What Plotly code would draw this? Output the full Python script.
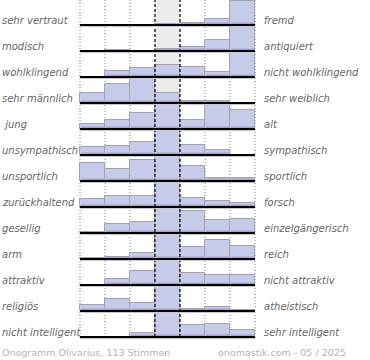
import plotly.graph_objects as go

left_labels = ["sehr vertraut", "modisch", "wohlklingend", "sehr männlich", " jung",
               "unsympathisch", "unsportlich", "zurückhaltend", "gesellig", "arm",
               "attraktiv", "religiös", "nicht intelligent"]
right_labels = ["fremd", "antiquiert", "nicht wohlklingend", "sehr weiblich", "alt",
                "sympathisch", "sportlich", "forsch", "einzelgängerisch", "reich",
                "nicht attraktiv", "atheistisch", "sehr intelligent"]
# relative bar heights per row (7 scale steps), max = 24
values = [
    [0, 0, 0, 1.5, 2.5, 6.5, 24],
    [0, 1.5, 0, 2.5, 4.5, 11.5, 24],
    [0, 6.5, 9, 12.5, 10, 5.5, 24],
    [10, 19.5, 24, 10, 2.3, 2, 0],
    [5.5, 9, 16.5, 24, 9, 24, 19],
    [8, 9, 13, 24, 10, 5.5, 0],
    [18, 12.5, 21, 24, 15.5, 3, 3],
    [8, 11, 11, 24, 9, 6.5, 4.5],
    [1, 9, 11, 24, 22, 13, 14],
    [1, 2.5, 6.5, 24, 12.5, 19.5, 13.5],
    [0, 6.5, 14, 24, 12, 10.5, 10.5],
    [6.5, 12.5, 8.5, 24, 2.3, 4.5, 1.5],
    [0, 0, 4.5, 24, 12.5, 13.5, 7.5],
]
footer_left = "Onogramm Olivarius, 113 Stimmen"
footer_right = "onomastik.com - 05 / 2025"

ROW_H = 26
n = len(values)
ncol = 7
TOP = (n - 1) * ROW_H + 25

xs, ys, bases = [], [], []
for i, row in enumerate(values):
    b = (n - 1 - i) * ROW_H
    for j, v in enumerate(row):
        xs.append(j + 0.5)
        ys.append(v)
        bases.append(b)

fig = go.Figure()
fig.add_trace(go.Bar(x=xs, y=ys, base=bases, width=1,
                     marker=dict(color="#c6cbe9", line=dict(color="#a2a2a8", width=1)),
                     hoverinfo="skip", showlegend=False))
fig.add_trace(go.Bar(x=xs, y=[min(v, 3.5) for v in ys], base=bases, width=0.94,
                     marker=dict(color="#b8b6df", line=dict(width=0)),
                     hoverinfo="skip", showlegend=False))
fig.add_trace(go.Bar(x=xs, y=[min(v, 1.8) for v in ys], base=bases, width=0.94,
                     marker=dict(color="#a6a0d0", line=dict(width=0)),
                     hoverinfo="skip", showlegend=False))

shapes = []
# center column background
shapes.append(dict(type="rect", xref="x", yref="y", x0=3, x1=4, y0=0, y1=TOP + 1,
                   fillcolor="#ececec", line=dict(width=0), layer="below"))
# dotted grid lines
for k in [0, 1, 2, 5, 6, 7]:
    shapes.append(dict(type="line", xref="x", yref="y", x0=k, x1=k, y0=0, y1=TOP + 1,
                       line=dict(color="#808080", width=1, dash="1px,2px"), layer="below"))
# dashed center lines
for k in [3, 4]:
    shapes.append(dict(type="line", xref="x", yref="y", x0=k, x1=k, y0=0, y1=TOP + 1,
                       line=dict(color="#000000", width=1.2, dash="3px,2px"), layer="above"))
# baselines
for i in range(n):
    b = (n - 1 - i) * ROW_H
    shapes.append(dict(type="line", xref="x", yref="y", x0=0, x1=7, y0=b - 1.5, y1=b - 1.5,
                       line=dict(color="#c8c8c8", width=1), layer="above"))
    shapes.append(dict(type="line", xref="x", yref="y", x0=0, x1=7, y0=b, y1=b,
                       line=dict(color="#000000", width=2), layer="above"))

L, R, T, B = 79, 114, 0, 21
W, H = 370, 360
pw = W - L - R
ph = H - T - B


def px2paper(p):
    return (p - L) / pw


def py2paper(p):
    return (H - B - p) / ph


ann = []
for i in range(n):
    b = (n - 1 - i) * ROW_H
    ann.append(dict(text="<i>" + left_labels[i] + "</i>", xref="paper", yref="y",
                    x=px2paper(1), y=b + 5,
                    xanchor="left", yanchor="middle", showarrow=False, borderpad=0,
                    font=dict(family="DejaVu Sans", size=10, color="#666666")))
    ann.append(dict(text="<i>" + right_labels[i] + "</i>", xref="paper", yref="y",
                    x=px2paper(263), y=b + 5,
                    xanchor="left", yanchor="middle", showarrow=False, borderpad=0,
                    font=dict(family="DejaVu Sans", size=10, color="#666666")))
ann.append(dict(text=footer_left, xref="paper", yref="paper", x=px2paper(1), y=py2paper(352),
                xanchor="left", yanchor="middle", showarrow=False, borderpad=0,
                font=dict(family="DejaVu Sans", size=9.5, color="#b4b4b4")))
ann.append(dict(text=footer_right, xref="paper", yref="paper", x=px2paper(347), y=py2paper(352),
                xanchor="right", yanchor="middle", showarrow=False, borderpad=0,
                font=dict(family="DejaVu Sans", size=9.5, color="#b4b4b4")))

fig.update_layout(
    width=W, height=H, margin=dict(l=L, r=R, t=T, b=B),
    paper_bgcolor="white", plot_bgcolor="white",
    barmode="overlay", bargap=0,
    xaxis=dict(range=[-0.04, 7.04], visible=False, fixedrange=True),
    yaxis=dict(range=[-2, TOP], visible=False, fixedrange=True),
    shapes=shapes, annotations=ann,
)
fig.write_html("out.html", config={"displayModeBar": False},
               post_script="document.body.style.margin='0';document.body.style.padding='0';")
